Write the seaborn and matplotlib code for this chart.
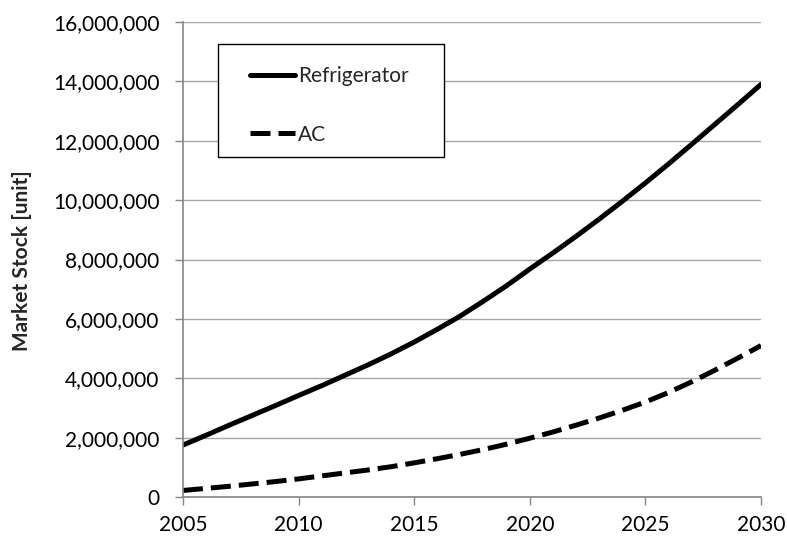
import numpy as np
import pandas as pd
import matplotlib
matplotlib.use("Agg")
import matplotlib.pyplot as plt
import seaborn as sns
from matplotlib.patches import Rectangle
from matplotlib.ticker import FuncFormatter

# --- data
years = list(range(2005, 2031))
refrigerator = [1.75, 2.08, 2.42, 2.75, 3.08, 3.42, 3.75, 4.10, 4.45, 4.82,
                5.22, 5.65, 6.10, 6.60, 7.12, 7.68, 8.22, 8.78, 9.36, 9.96,
                10.58, 11.22, 11.88, 12.55, 13.22, 13.90]
ac = [0.22, 0.29, 0.36, 0.44, 0.52, 0.61, 0.71, 0.81, 0.91, 1.02,
      1.15, 1.29, 1.44, 1.60, 1.78, 1.98, 2.19, 2.42, 2.66, 2.92,
      3.20, 3.52, 3.88, 4.27, 4.68, 5.10]
x_ticks = [2005, 2010, 2015, 2020, 2025, 2030]
y_ticks = list(range(0, 16_000_001, 2_000_000))

df = pd.DataFrame({
    "year": years * 2,
    "stock": [v * 1e6 for v in refrigerator] + [v * 1e6 for v in ac],
    "series": ["Refrigerator"] * len(years) + ["AC"] * len(years),
})

sns.set_style("white")
plt.rcParams["font.family"] = ["Lato", "DejaVu Sans"]
FS = 15
LW = 3.6

fig = plt.figure(figsize=(7.87, 5.37), dpi=100)
ax = fig.add_axes([0.2325, 0.0745, 0.7345, 0.8845])

sns.lineplot(data=df, x="year", y="stock", style="series",
             dashes={"Refrigerator": "", "AC": (4, 1.6)},
             color="black", linewidth=LW, ax=ax)

ax.set_xlim(2005, 2030)
ax.set_ylim(0, 16_000_000)
ax.set_xticks(x_ticks)
ax.set_yticks(y_ticks)
ax.yaxis.set_major_formatter(FuncFormatter(lambda v, p: f"{int(v):,}"))
ax.grid(axis="y", color="#a6a6a6", linewidth=1)
ax.set_axisbelow(True)

for s in ["top", "right"]:
    ax.spines[s].set_visible(False)
for s in ["left", "bottom"]:
    ax.spines[s].set_color("#868686")
    ax.spines[s].set_linewidth(1.2)

ax.tick_params(axis="both", labelsize=FS, colors="#868686", labelcolor="black",
               length=6, width=1, direction="out", left=True, bottom=True)
ax.tick_params(axis="y", pad=11)
ax.tick_params(axis="x", pad=7)
ax.set_xlabel("")
ax.set_ylabel("Market Stock [unit]", fontsize=FS, fontweight="bold")
ax.yaxis.set_label_coords(-0.261, 0.497)

# legend box (Excel style, drawn in axes coords)
ax.add_patch(Rectangle((0.0606, 0.716), 0.391, 0.238, transform=ax.transAxes,
                       facecolor="white", edgecolor="black", linewidth=1, zorder=4))
handles, labels = ax.get_legend_handles_labels()
leg = ax.legend(handles, labels, loc="upper left", bbox_to_anchor=(0.116, 0.907),
                frameon=False, fontsize=FS, handlelength=2.15, handletextpad=0.15,
                labelspacing=1.85, borderpad=0, borderaxespad=0)
leg.set_zorder(5)
for line in leg.get_lines():
    line.set_linewidth(LW)

fig.savefig("out.png", dpi=100)
